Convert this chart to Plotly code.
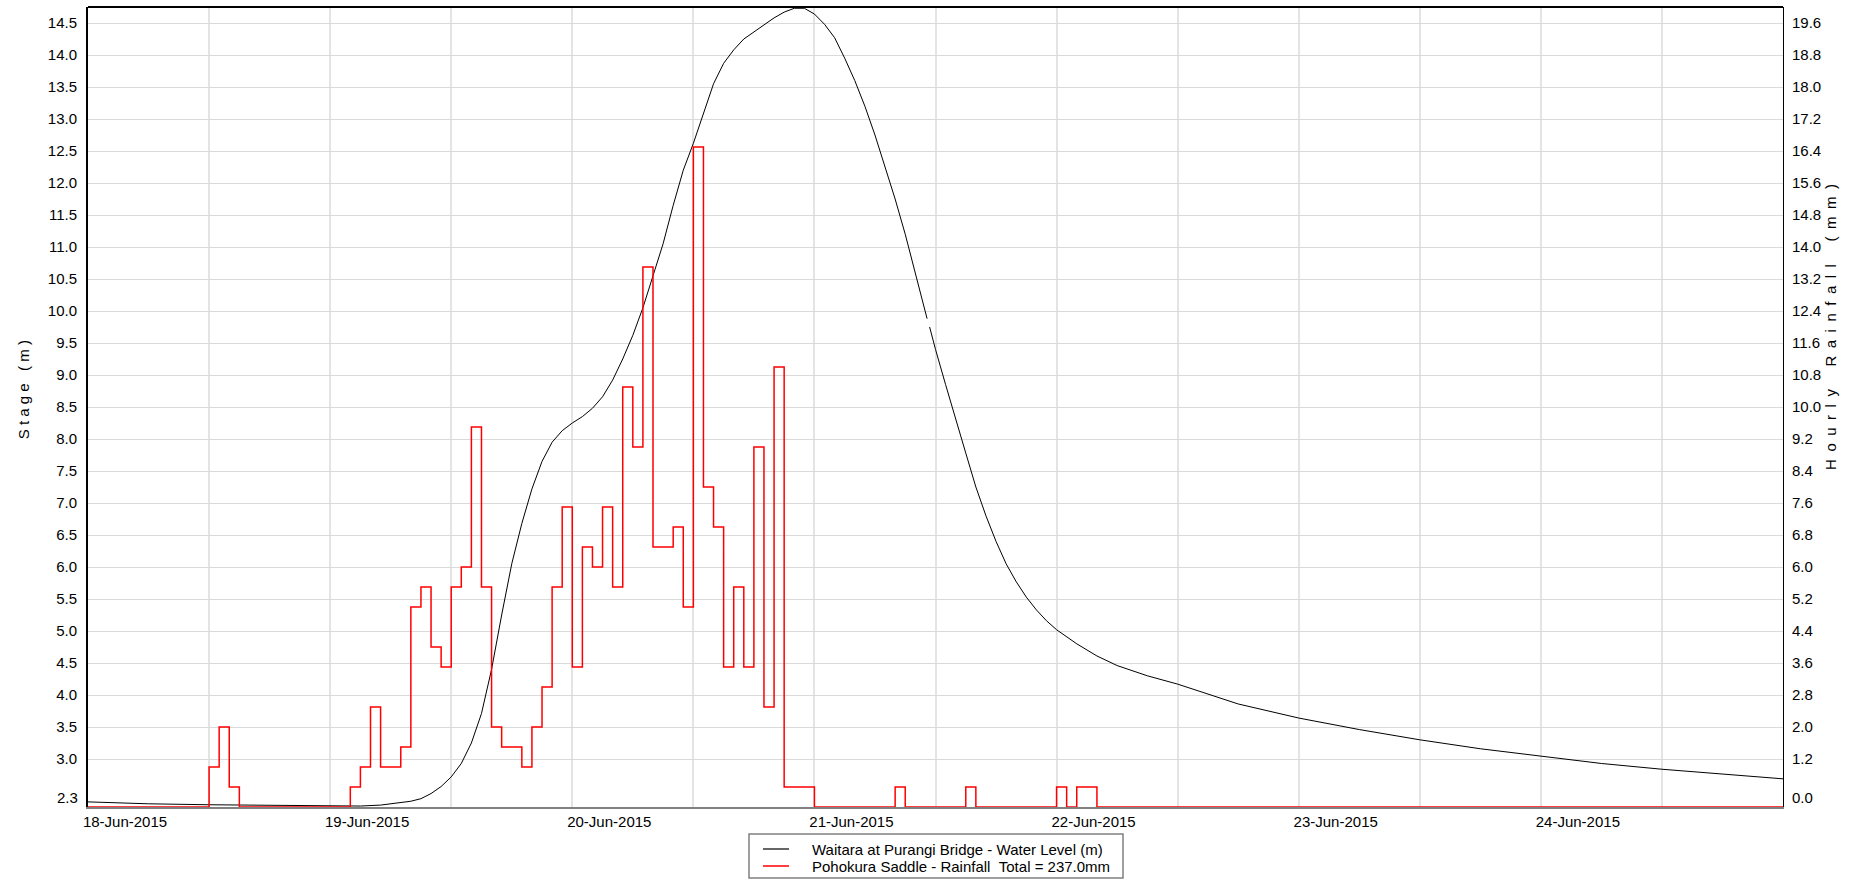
import plotly.graph_objects as go

# ---- Water level (stage, m) at Waitara at Purangi Bridge ----
stage_time = [
    "2015-06-18 00:00", "2015-06-18 06:00", "2015-06-18 12:00", "2015-06-18 18:00",
    "2015-06-19 00:00", "2015-06-19 03:00", "2015-06-19 05:00", "2015-06-19 07:00",
    "2015-06-19 08:00", "2015-06-19 09:00", "2015-06-19 10:00", "2015-06-19 11:00",
    "2015-06-19 12:00", "2015-06-19 13:00", "2015-06-19 14:00", "2015-06-19 15:00",
    "2015-06-19 16:00", "2015-06-19 17:00", "2015-06-19 18:00", "2015-06-19 19:00",
    "2015-06-19 20:00", "2015-06-19 21:00", "2015-06-19 22:00", "2015-06-19 23:00",
    "2015-06-20 00:00", "2015-06-20 01:00", "2015-06-20 02:00", "2015-06-20 03:00",
    "2015-06-20 04:00", "2015-06-20 05:00", "2015-06-20 06:00", "2015-06-20 07:00",
    "2015-06-20 08:00", "2015-06-20 09:00", "2015-06-20 10:00", "2015-06-20 11:00",
    "2015-06-20 12:00", "2015-06-20 13:00", "2015-06-20 14:00", "2015-06-20 15:00",
    "2015-06-20 16:00", "2015-06-20 17:00", "2015-06-20 18:00", "2015-06-20 19:00",
    "2015-06-20 20:00", "2015-06-20 21:00", "2015-06-20 22:00", "2015-06-20 23:00",
    "2015-06-21 00:00", "2015-06-21 01:00", "2015-06-21 02:00", "2015-06-21 03:00",
    "2015-06-21 04:00", "2015-06-21 05:00", "2015-06-21 06:00", "2015-06-21 07:00",
    "2015-06-21 08:00", "2015-06-21 09:00", "2015-06-21 10:00", "2015-06-21 11:00",
    "2015-06-21 11:10", "2015-06-21 11:17", "2015-06-21 11:25", "2015-06-21 12:00",
    "2015-06-21 13:00", "2015-06-21 14:00", "2015-06-21 15:00", "2015-06-21 16:00",
    "2015-06-21 17:00", "2015-06-21 18:00", "2015-06-21 19:00", "2015-06-21 20:00",
    "2015-06-21 21:00", "2015-06-21 22:00", "2015-06-21 23:00", "2015-06-22 00:00",
    "2015-06-22 02:00", "2015-06-22 04:00", "2015-06-22 06:00", "2015-06-22 09:00",
    "2015-06-22 12:00", "2015-06-22 18:00", "2015-06-23 00:00", "2015-06-23 06:00",
    "2015-06-23 12:00", "2015-06-23 18:00", "2015-06-24 00:00", "2015-06-24 06:00",
    "2015-06-24 12:00", "2015-06-24 18:00", "2015-06-25 00:00",
]
stage_m = [
    2.33, 2.30, 2.285, 2.275,
    2.265, 2.265, 2.28, 2.32,
    2.34, 2.38, 2.46, 2.57,
    2.72, 2.93, 3.25, 3.71,
    4.40, 5.25, 6.05, 6.68,
    7.22, 7.65, 7.95, 8.13,
    8.25, 8.35, 8.48, 8.66,
    8.92, 9.25, 9.62, 10.05,
    10.55, 11.05, 11.65, 12.20,
    12.62, 13.10, 13.55, 13.87,
    14.08, 14.25, 14.36, 14.46,
    14.58, 14.67, 14.73, 14.73,
    14.64, 14.48, 14.27, 13.95,
    13.60, 13.20, 12.75, 12.25,
    11.75, 11.20, 10.60, 10.00,
    9.88, None, 9.75, 9.40,
    8.85, 8.30, 7.78, 7.25,
    6.80, 6.40, 6.05, 5.77,
    5.53, 5.33, 5.16, 5.02,
    4.80, 4.61, 4.46, 4.30,
    4.17, 3.86, 3.64, 3.46,
    3.30, 3.16, 3.04, 2.93,
    2.84, 2.76, 2.69,
]

# ---- Hourly rainfall (mm) at Pohokura Saddle, value applies from the hour start ----
rain_time = [
    "2015-06-18 00:00", "2015-06-18 12:00", "2015-06-18 13:00", "2015-06-18 14:00",
    "2015-06-18 15:00",
    "2015-06-19 02:00", "2015-06-19 03:00", "2015-06-19 04:00", "2015-06-19 05:00",
    "2015-06-19 06:00", "2015-06-19 07:00", "2015-06-19 08:00", "2015-06-19 09:00",
    "2015-06-19 10:00", "2015-06-19 11:00", "2015-06-19 12:00", "2015-06-19 13:00",
    "2015-06-19 14:00", "2015-06-19 15:00", "2015-06-19 16:00", "2015-06-19 17:00",
    "2015-06-19 18:00", "2015-06-19 19:00", "2015-06-19 20:00", "2015-06-19 21:00",
    "2015-06-19 22:00", "2015-06-19 23:00",
    "2015-06-20 00:00", "2015-06-20 01:00", "2015-06-20 02:00", "2015-06-20 03:00",
    "2015-06-20 04:00", "2015-06-20 05:00", "2015-06-20 06:00", "2015-06-20 07:00",
    "2015-06-20 08:00", "2015-06-20 09:00", "2015-06-20 10:00", "2015-06-20 11:00",
    "2015-06-20 12:00", "2015-06-20 13:00", "2015-06-20 14:00", "2015-06-20 15:00",
    "2015-06-20 16:00", "2015-06-20 17:00", "2015-06-20 18:00", "2015-06-20 19:00",
    "2015-06-20 20:00", "2015-06-20 21:00", "2015-06-20 22:00", "2015-06-20 23:00",
    "2015-06-21 00:00", "2015-06-21 08:00", "2015-06-21 09:00", "2015-06-21 15:00",
    "2015-06-21 16:00", "2015-06-22 00:00", "2015-06-22 01:00", "2015-06-22 02:00",
    "2015-06-22 03:00", "2015-06-22 04:00", "2015-06-25 00:00",
]
rain_mm = [
    0.0, 1.0, 2.0, 0.5,
    0.0,
    0.5, 1.0, 2.5, 1.0,
    1.0, 1.5, 5.0, 5.5,
    4.0, 3.5, 5.5, 6.0,
    9.5, 5.5, 2.0, 1.5,
    1.5, 1.0, 2.0, 3.0,
    5.5, 7.5,
    3.5, 6.5, 6.0, 7.5,
    5.5, 10.5, 9.0, 13.5,
    6.5, 6.5, 7.0, 5.0,
    16.5, 8.0, 7.0, 3.5,
    5.5, 3.5, 9.0, 2.5,
    11.0, 0.5, 0.5, 0.5,
    0.0, 0.5, 0.0, 0.5,
    0.0, 0.5, 0.0, 0.5,
    0.5, 0.0, 0.0,
]
rain_total = 237.0

# ---- Axes ----
x_range = ["2015-06-18 00:00", "2015-06-25 00:00"]
x_grid = [
    "2015-06-18 00:00", "2015-06-18 12:00", "2015-06-19 00:00", "2015-06-19 12:00",
    "2015-06-20 00:00", "2015-06-20 12:00", "2015-06-21 00:00", "2015-06-21 12:00",
    "2015-06-22 00:00", "2015-06-22 12:00", "2015-06-23 00:00", "2015-06-23 12:00",
    "2015-06-24 00:00", "2015-06-24 12:00",
]
x_labels = [
    "18-Jun-2015", "", "19-Jun-2015", "", "20-Jun-2015", "", "21-Jun-2015", "",
    "22-Jun-2015", "", "23-Jun-2015", "", "24-Jun-2015", "",
]
stage_range = [2.25, 14.75]
stage_ticks = [3.0, 3.5, 4.0, 4.5, 5.0, 5.5, 6.0, 6.5, 7.0, 7.5, 8.0, 8.5, 9.0,
               9.5, 10.0, 10.5, 11.0, 11.5, 12.0, 12.5, 13.0, 13.5, 14.0, 14.5]
rain_range = [0.0, 20.0]
rain_ticks = [1.2, 2.0, 2.8, 3.6, 4.4, 5.2, 6.0, 6.8, 7.6, 8.4, 9.2, 10.0, 10.8,
              11.6, 12.4, 13.2, 14.0, 14.8, 15.6, 16.4, 17.2, 18.0, 18.8, 19.6]
stage_min_label = "2.3"
rain_min_label = "0.0"

FONT = "Liberation Sans, Arial, sans-serif"
GRID = "#dadada"
EN = "\u2002"
NB = "\u00a0"

# plot area in pixels (figure 1866 x 881)
L, R, T, B = 88, 83, 7, 74
PW, PH = 1866 - L - R, 881 - T - B


def px_x(px):
    return (px - L) / PW


def px_y(py):
    return (881 - B - py) / PH


stage_name = "Waitara at Purangi Bridge - Water Level (m)"
rain_name = f"Pohokura Saddle - Rainfall{NB}{NB}Total = {rain_total:.1f}mm"

fig = go.Figure()
fig.add_trace(go.Scatter(
    x=stage_time, y=stage_m, mode="lines", yaxis="y", name=stage_name,
    line=dict(color="#000000", width=1), showlegend=False,
))
fig.add_trace(go.Scatter(
    x=rain_time, y=rain_mm, mode="lines", yaxis="y2", name=rain_name,
    line=dict(color="#ff0000", width=1.5, shape="hv"), showlegend=False,
))

stage_title = " ".join("Stage") + NB + NB + " " + " ".join("(m)")
rain_title = EN.join("Hourly") + EN * 3 + EN.join("Rainfall") + EN * 3 + EN.join("(mm)")

# legend box below the plot
legend_shapes = [
    dict(type="rect", xref="paper", yref="paper",
         x0=px_x(749), x1=px_x(1123), y0=px_y(878), y1=px_y(834),
         line=dict(color="#808080", width=1.5), fillcolor="white", layer="above"),
    dict(type="line", xref="paper", yref="paper",
         x0=px_x(763), x1=px_x(789), y0=px_y(849), y1=px_y(849),
         line=dict(color="#333333", width=1.5)),
    dict(type="line", xref="paper", yref="paper",
         x0=px_x(763), x1=px_x(789), y0=px_y(866), y1=px_y(866),
         line=dict(color="#ff0000", width=1.5)),
]
legend_texts = [
    dict(text=stage_name, xref="paper", yref="paper", x=px_x(810), y=px_y(849),
         xanchor="left", yanchor="middle", showarrow=False, font=dict(size=15)),
    dict(text=rain_name, xref="paper", yref="paper", x=px_x(810), y=px_y(866),
         xanchor="left", yanchor="middle", showarrow=False, font=dict(size=15)),
]

fig.update_layout(
    width=1866, height=881,
    margin=dict(l=L, r=R, t=T, b=B, autoexpand=False),
    paper_bgcolor="white", plot_bgcolor="white",
    font=dict(family=FONT, size=15, color="#000000"),
    showlegend=False,
    xaxis=dict(
        type="date", range=x_range,
        tickmode="array", tickvals=x_grid, ticktext=x_labels,
        showgrid=True, gridcolor="#e4e4e4", gridwidth=2,
        ticks="", ticklabelshift=37, ticklabelstandoff=0,
        showline=True, linecolor="#808080", linewidth=2,
        zeroline=False, tickfont=dict(size=15),
    ),
    yaxis=dict(
        range=stage_range, tickmode="array", tickvals=stage_ticks,
        ticktext=[f"{v:.1f}" for v in stage_ticks],
        showgrid=True, gridcolor=GRID, gridwidth=1,
        ticks="outside", ticklen=6, tickcolor="rgba(0,0,0,0)",
        showline=True, linecolor="#000000", linewidth=2,
        zeroline=False, tickfont=dict(size=15),
    ),
    yaxis2=dict(
        range=rain_range, overlaying="y", side="right",
        tickmode="array", tickvals=rain_ticks,
        ticktext=[f"{v:.1f}" for v in rain_ticks],
        showgrid=False, ticks="outside", ticklen=5, tickcolor="rgba(0,0,0,0)",
        showline=True, linecolor="#000000", linewidth=1,
        zeroline=False, tickfont=dict(size=15),
    ),
    shapes=[
        dict(type="line", xref="paper", yref="paper", x0=0, x1=1, y0=1, y1=1,
             line=dict(color="#000000", width=2)),
    ] + legend_shapes,
    annotations=[
        dict(text=stage_min_label, xref="paper", yref="paper", x=0, y=0,
             xanchor="right", yanchor="middle", xshift=-8, yshift=10,
             showarrow=False, font=dict(size=15)),
        dict(text=rain_min_label, xref="paper", yref="paper", x=1, y=0,
             xanchor="left", yanchor="middle", xshift=7, yshift=10,
             showarrow=False, font=dict(size=15)),
        dict(text=stage_title,
             xref="paper", yref="paper", x=-0.0383, y=0.521,
             xanchor="center", yanchor="middle", textangle=-90,
             showarrow=False, font=dict(size=15)),
        dict(text=rain_title,
             xref="paper", yref="paper", x=1.0277, y=0.60,
             xanchor="center", yanchor="middle", textangle=-90,
             showarrow=False, font=dict(size=15)),
    ] + legend_texts,
)

fig.write_html("out.html")
